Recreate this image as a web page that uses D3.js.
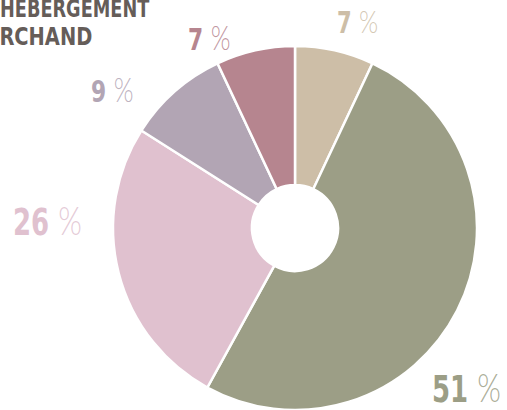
<!DOCTYPE html>
<html>
<head>
<meta charset="utf-8">
<script src="https://cdn.jsdelivr.net/npm/d3@7"></script>
<style>
  html, body { margin: 0; padding: 0; background: #fff; overflow: hidden; }
  svg { display: block; }
  .num { font-family: "DejaVu Sans Condensed", "DejaVu Sans", sans-serif; font-weight: bold; }
  .pct { font-family: Lato, "Open Sans", sans-serif; font-weight: 300; }
  .title { font-family: "DejaVu Sans Condensed", "DejaVu Sans", sans-serif; font-weight: bold; fill: #655d59; }
</style>
</head>
<body>
<svg width="507" height="410"></svg>
<script>
// slices, clockwise from 12 o'clock
var slices = ["a", "b", "c", "d", "e"];
var values = [7, 51, 26, 9, 7];
var colors = ["#cdbea7", "#9c9e86", "#e0c1cf", "#b2a5b4", "#b6858f"];
var titleLines = ["HEBERGEMENT", "MARCHAND"];

// label anchors (left x, baseline y) and font size
var labelPos = [[337, 33, 30], [432, 402, 37], [13, 235, 37], [91, 102, 31], [188, 50, 31]];
var squeeze = 0.78;

var svg = d3.select("svg"),
    cx = 295, cy = 228,
    outer = 182, inner = 43;

var data = slices.map(function(s, i) { return {name: s, value: values[i]}; });

var pie = d3.pie()
    .sort(null)
    .value(function(d) { return d.value; });

var arc = d3.arc()
    .innerRadius(inner)
    .outerRadius(outer);

var g = svg.append("g")
    .attr("transform", "translate(" + cx + "," + cy + ")");

g.selectAll("path")
  .data(pie(data))
  .enter().append("path")
    .attr("d", arc)
    .attr("fill", function(d, i) { return colors[i]; })
    .attr("stroke", "#fff")
    .attr("stroke-width", 2.5);

// labels
var lab = svg.append("g")
  .selectAll("text")
  .data(data)
  .enter().append("text")
    .attr("transform", function(d, i) {
      return "translate(" + labelPos[i][0] + "," + labelPos[i][1] + ") scale(" + squeeze + ",1)";
    })
    .attr("font-size", function(d, i) { return labelPos[i][2]; })
    .attr("fill", function(d, i) { return colors[i]; });

lab.append("tspan")
    .attr("class", "num")
    .text(function(d) { return d.value; });

lab.append("tspan")
    .attr("class", "pct")
    .attr("dx", "0.3em")
    .attr("font-size", "1.05em")
    .attr("fill-opacity", 0.85)
    .text("%");

// cut-off legend title, top-left
svg.append("text")
    .attr("class", "title")
    .attr("transform", "translate(0,17) scale(0.82,1)")
    .attr("font-size", 24)
    .text(titleLines[0]);

svg.append("text")
    .attr("class", "title")
    .attr("transform", "translate(-35,45) scale(0.9,1)")
    .attr("font-size", 24)
    .text(titleLines[1]);
</script>
</body>
</html>
